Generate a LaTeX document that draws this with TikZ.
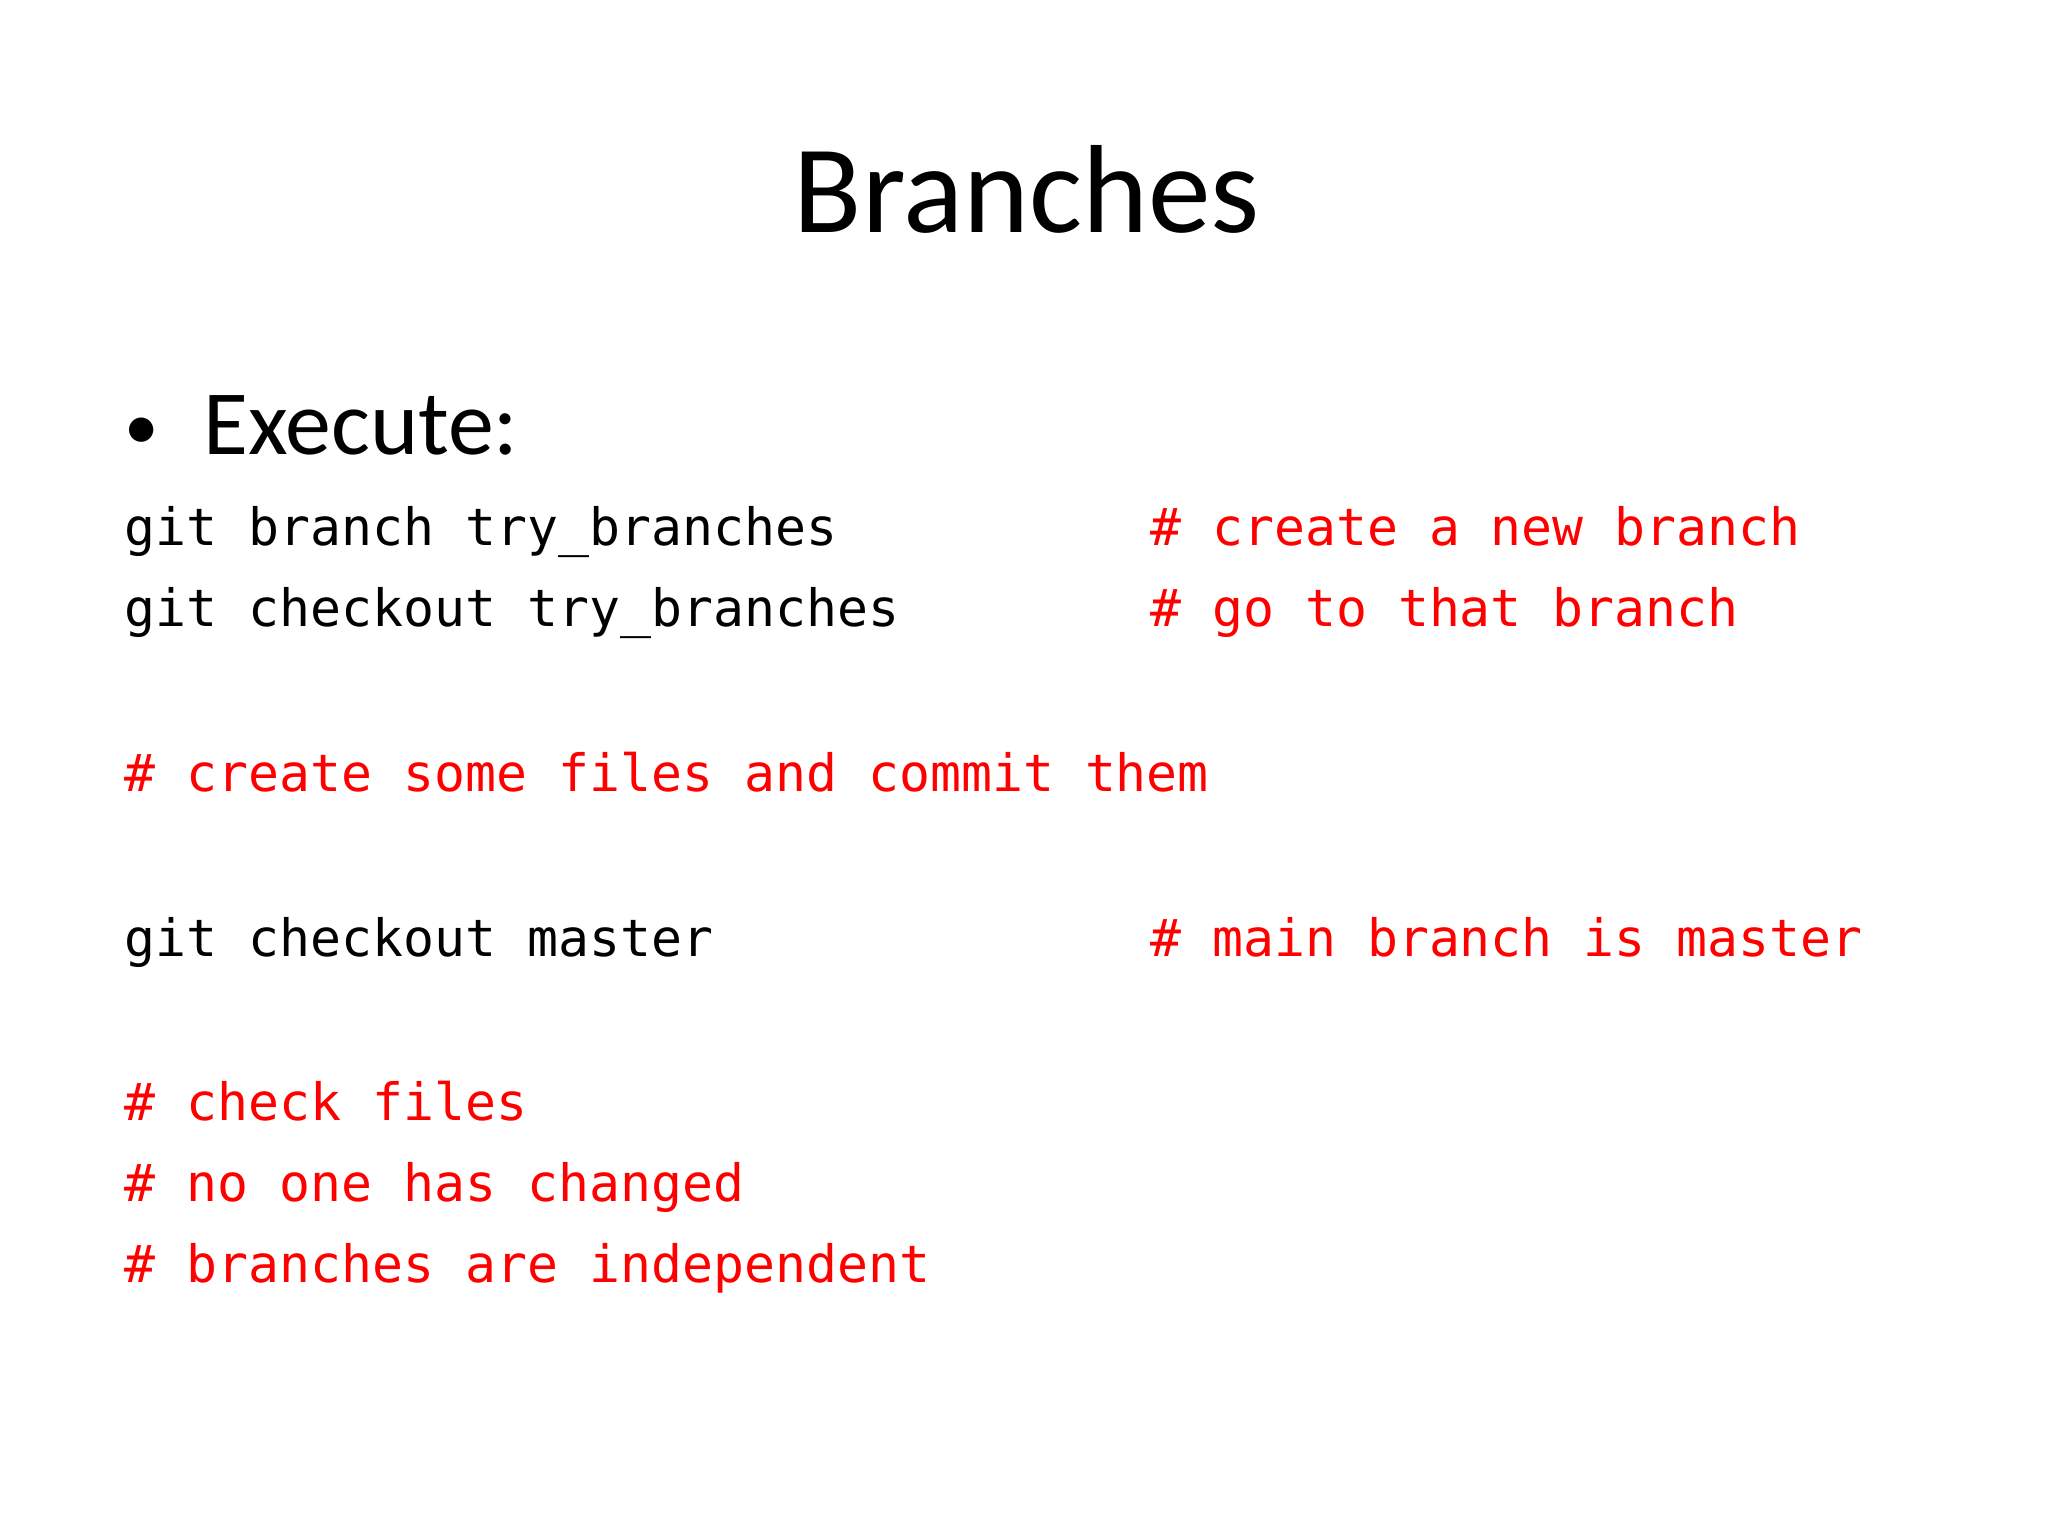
\documentclass[tikz,border=0pt]{standalone}
\usepackage{fontspec}
\setmainfont{Carlito}
\setmonofont{DejaVu Sans Mono}
\begin{document}
\begin{tikzpicture}[x=0.01cm,y=-0.01cm,
  code/.style={anchor=base west,inner sep=0pt,font=\ttfamily\fontsize{11.2}{13}\selectfont},
  cmt/.style={code,text=red}]
\useasboundingbox (0,0) rectangle (1568,1176);
\node[anchor=base,inner sep=0pt,font=\fontsize{27.3}{32}\selectfont] (title) at (786,178) {Branches};
\node[anchor=base west,inner sep=0pt,font=\fontsize{15}{18}\selectfont] (bul) at (95,344) {•};
\node[anchor=base west,inner sep=0pt,font=\fontsize{20}{24}\selectfont] (exec) at (155,348) {Execute:};
\node[code] (l1) at (95,418) {git branch try\_branches};
\node[cmt] (c1) at (880,418) {\# create a new branch};
\node[code] (l2) at (95,480) {git checkout try\_branches};
\node[cmt] (c2) at (880,480) {\# go to that branch};
\node[cmt] (l3) at (95,606) {\# create some files and commit them};
\node[code] (l4) at (95,732) {git checkout master};
\node[cmt] (c4) at (880,732) {\# main branch is master};
\node[cmt] (l5) at (95,858) {\# check files};
\node[cmt] (l6) at (95,920) {\# no one has changed};
\node[cmt] (l7) at (95,982) {\# branches are independent};
\end{tikzpicture}
\end{document}
